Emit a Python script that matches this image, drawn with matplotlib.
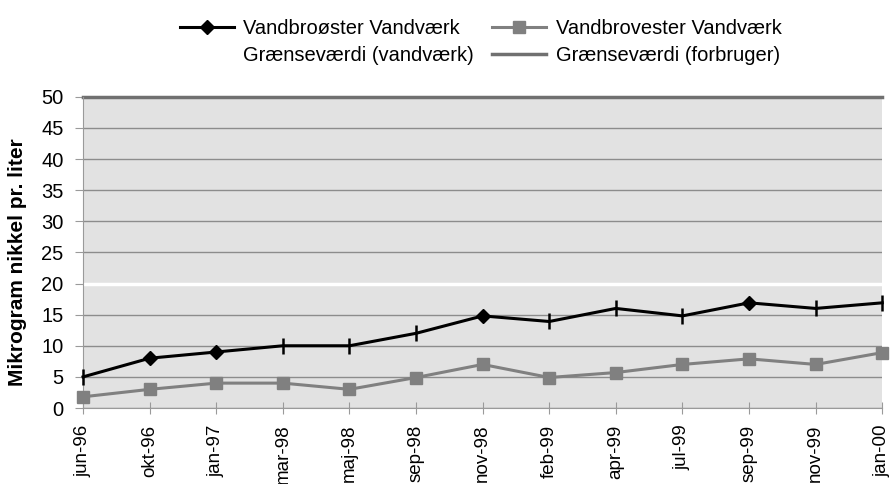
import matplotlib.pyplot as plt

# Data
months = ["jun-96", "okt-96", "jan-97", "mar-98", "maj-98", "sep-98", "nov-98",
          "feb-99", "apr-99", "jul-99", "sep-99", "nov-99", "jan-00"]
broester = [5, 8, 9, 10, 10, 12, 14.8, 13.9, 16, 14.8, 16.9, 16, 16.9]
brovester = [1.8, 3, 4, 4, 3, 4.9, 7, 4.9, 5.7, 7, 7.9, 7, 8.9]
graense_vandvaerk = 20
graense_forbruger = 50
diamond_idx = [1, 2, 6, 10]

plt.rcParams['font.family'] = ['Liberation Sans', 'DejaVu Sans']

fig = plt.figure(figsize=(8.9, 4.84), dpi=100)
ax = fig.add_axes([0.0933, 0.157, 0.898, 0.643])
ax.set_facecolor('#e2e2e2')

x = list(range(len(months)))
ax.set_xlim(0, len(months) - 1)
ax.set_ylim(0, 50)
ax.set_yticks(range(0, 51, 5))
ax.yaxis.grid(True, color='#8c8c8c', linewidth=1)
ax.set_axisbelow(True)

h3, = ax.plot([x[0], x[-1]], [graense_vandvaerk] * 2, color='white', lw=2.5,
              label='Grænseværdi (vandværk)')
h4, = ax.plot([x[0], x[-1]], [graense_forbruger] * 2, color='#707070', lw=2.5,
              label='Grænseværdi (forbruger)', clip_on=False)

other_idx = [i for i in x if i not in diamond_idx]
h1, = ax.plot(x, broester, color='black', lw=2.2, marker='D', markersize=7,
              markevery=diamond_idx, label='Vandbroøster Vandværk', clip_on=False, zorder=5)
ax.plot(x, broester, ls='none', color='black', marker='|', markersize=11,
        markeredgewidth=1.8, markevery=other_idx, clip_on=False, zorder=5)
h2, = ax.plot(x, brovester, color='#808080', lw=2.2, marker='s', markersize=9,
              label='Vandbrovester Vandværk', clip_on=False, zorder=4)

for s in ['top', 'right']:
    ax.spines[s].set_visible(False)
ax.spines['left'].set_color('#9a9a9a')
ax.spines['bottom'].set_color('#9a9a9a')

ax.set_xticks(x)
ax.set_xticklabels(months, rotation=90, fontsize=13.5)
ax.tick_params(axis='x', length=8, direction='inout', color='#9a9a9a', pad=8)
ax.tick_params(axis='y', labelsize=14.5, length=6, color='#9a9a9a', pad=8)
ax.set_ylabel('Mikrogram nikkel pr. liter', fontsize=15, fontweight='bold')
ax.yaxis.set_label_coords(-0.07, 0.47)

fig.legend([h1, h3, h2, h4],
           [h1.get_label(), h3.get_label(), h2.get_label(), h4.get_label()],
           ncol=2, loc='upper center', bbox_to_anchor=(0.54, 0.998), frameon=False,
           handlelength=2.7, columnspacing=0.9, labelspacing=0.4,
           handletextpad=0.45, prop={'size': 14.5})

fig.savefig('out.png', dpi=100)
